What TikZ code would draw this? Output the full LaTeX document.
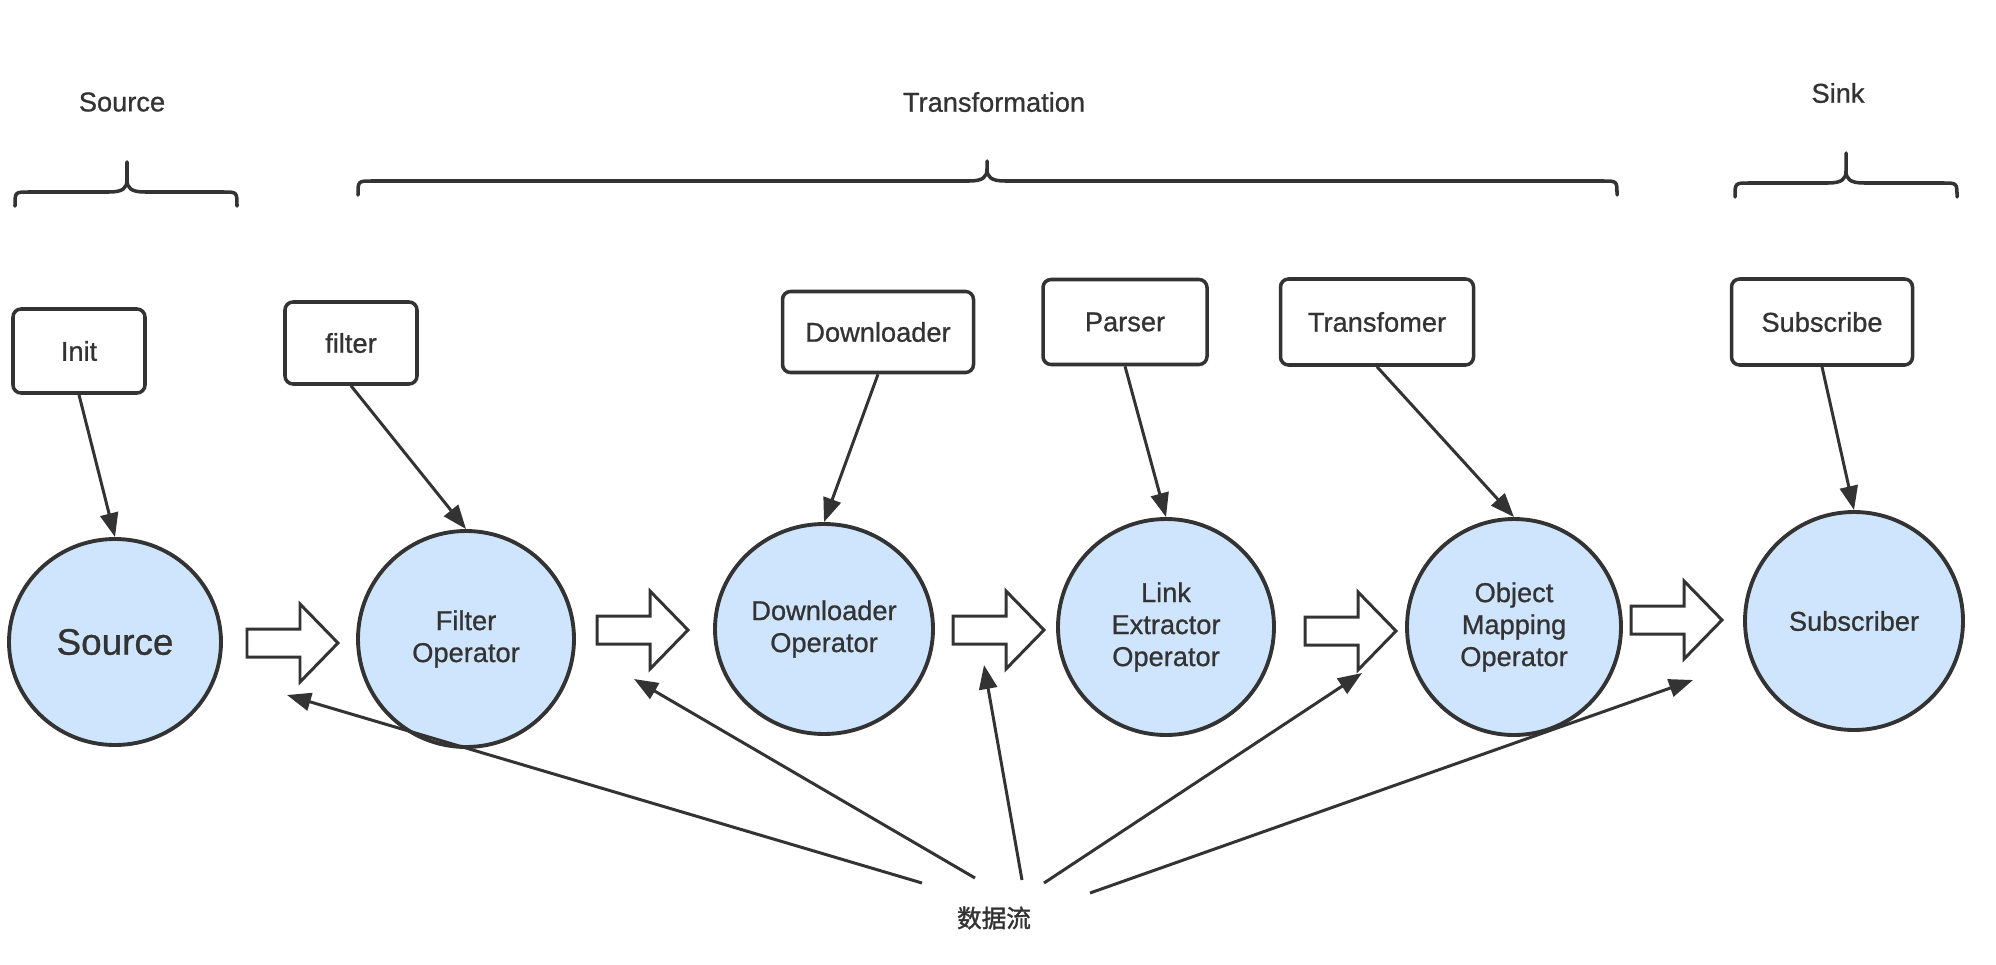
\documentclass[tikz,border=0pt]{standalone}
\usepackage{fontspec}
\setmainfont{Liberation Sans}[RawFeature={embolden=0.8}]
\newfontfamily\cjk{Noto Sans CJK SC}[RawFeature={embolden=1.5}]
\usepackage{xcolor}
\usepackage{tikz}
\usetikzlibrary{shapes.geometric,arrows.meta}
\definecolor{ink}{HTML}{333333}
\definecolor{opblue}{HTML}{CFE5FE}
\tikzstyle{operator}=[fill=opblue, draw=ink, shape=ellipse, line width=2.2pt, inner sep=0pt, minimum width=43.2mm, minimum height=43.2mm, align=center, text=ink, font=\fontsize{15.5}{18.2}\selectfont]
\tikzstyle{box}=[fill=white, draw=ink, shape=rectangle, rounded corners=1.6mm, line width=2pt, minimum height=17mm, text=ink, font=\fontsize{15.5}{18}\selectfont]
\tikzstyle{group label}=[text=ink, font=\fontsize{15.5}{18}\selectfont]
\tikzstyle{hook edge}=[-{Triangle[length=4.8mm, width=3.6mm]}, draw=ink, line width=1.7pt]
\tikzstyle{flow edge}=[-{Triangle[length=4.8mm, width=3.6mm]}, draw=ink, line width=1.7pt]
\tikzstyle{block arrow}=[fill=white, draw=ink, line width=1.7pt, line join=miter]
\tikzstyle{brace line}=[draw=ink, line width=2pt, line cap=round]
% left x, middle x, right x, line y, tip y
\newcommand{\groupbrace}[5]{%
	\draw [style=brace line] (#1,#4+14) .. controls (#1,#4) and (#1,#4) .. (#1+14,#4) -- (#2-18,#4) .. controls (#2-4,#4) and (#2,#4-4) .. (#2,#4-12) -- (#2,#5);
	\draw [style=brace line] (#2,#4-12) .. controls (#2,#4-4) and (#2+4,#4) .. (#2+18,#4) -- (#3-14,#4) .. controls (#3,#4) and (#3,#4) .. (#3,#4+14);}
\pgfdeclarelayer{nodelayer}
\pgfdeclarelayer{edgelayer}
\pgfsetlayers{main,nodelayer,edgelayer}
\begin{document}
\begin{tikzpicture}[x=0.2mm, y=-0.2mm]
	\useasboundingbox (0,0) rectangle (1996,964);
	\groupbrace{15}{127}{237}{192}{162}
	\groupbrace{358}{987}{1617}{181}{161}
	\groupbrace{1735}{1846}{1957}{183}{153}
	\node [style=group label] (12) at (122, 102) {Source};
	\node [style=group label] (13) at (994, 102) {Transformation};
	\node [style=group label] (14) at (1838, 93) {Sink};
	\node [text=ink, font=\cjk\fontsize{14}{16}\selectfont] (15) at (994, 918) {数据流};
	\begin{pgfonlayer}{nodelayer}
		\node [style=operator, minimum width=42.4mm, minimum height=41.2mm, font=\fontsize{21}{24}\selectfont] (0) at (115, 642) {Source};
		\node [style=operator] (1) at (466, 639) {Filter\\Operator};
		\node [style=operator, minimum width=43.6mm, minimum height=42mm] (2) at (824, 629) {Downloader\\Operator};
		\node [style=operator] (3) at (1166, 627) {Link\\Extractor\\Operator};
		\node [style=operator, minimum width=42.8mm] (4) at (1514, 627) {Object\\Mapping\\Operator};
		\node [style=operator, minimum width=43.6mm, minimum height=43.6mm] (5) at (1854, 621) {Subscriber};
		\node [style=box, minimum width=26.4mm, minimum height=16.8mm] (6) at (79, 351) {Init};
		\node [style=box, minimum width=26.4mm, minimum height=16.4mm] (7) at (351, 343) {filter};
		\node [style=box, minimum width=38.2mm, minimum height=16.2mm] (8) at (878, 332) {Downloader};
		\node [style=box, minimum width=32.8mm] (9) at (1125, 322) {Parser};
		\node [style=box, minimum width=38.6mm, minimum height=17.2mm] (10) at (1377, 322) {Transfomer};
		\node [style=box, minimum width=36.2mm, minimum height=17.2mm] (11) at (1822, 322) {Subscribe};
		\foreach \x/\y in {247/643, 597/630, 953/630, 1305/631, 1631/620}
			\draw [style=block arrow] (\x,\y) ++(0,-14) -- ++(53,0) -- ++(0,-25) -- ++(38,39) -- ++(-38,39) -- ++(0,-25) -- ++(-53,0) -- cycle;
	\end{pgfonlayer}
	\begin{pgfonlayer}{edgelayer}
		\coordinate (16) at (922, 883);
		\coordinate (17) at (975, 878);
		\coordinate (18) at (1022, 880);
		\coordinate (19) at (1044, 883);
		\coordinate (20) at (1090, 893);
		\coordinate (21) at (287, 695);
		\coordinate (22) at (634, 679);
		\coordinate (23) at (984, 665);
		\coordinate (24) at (1362, 673);
		\coordinate (25) at (1693, 680);
		\draw [style=hook edge] (6.south) to (0.north);
		\draw [style=hook edge] (7.south) to (1.north);
		\draw [style=hook edge] (8.south) to (2.north);
		\draw [style=hook edge] (9.south) to (3.north);
		\draw [style=hook edge] (10.south) to (4.north);
		\draw [style=hook edge] (11.south) to (5.north);
		\draw [style=flow edge] (16) to (21);
		\draw [style=flow edge] (17) to (22);
		\draw [style=flow edge] (18) to (23);
		\draw [style=flow edge] (19) to (24);
		\draw [style=flow edge] (20) to (25);
	\end{pgfonlayer}
\end{tikzpicture}
\end{document}
